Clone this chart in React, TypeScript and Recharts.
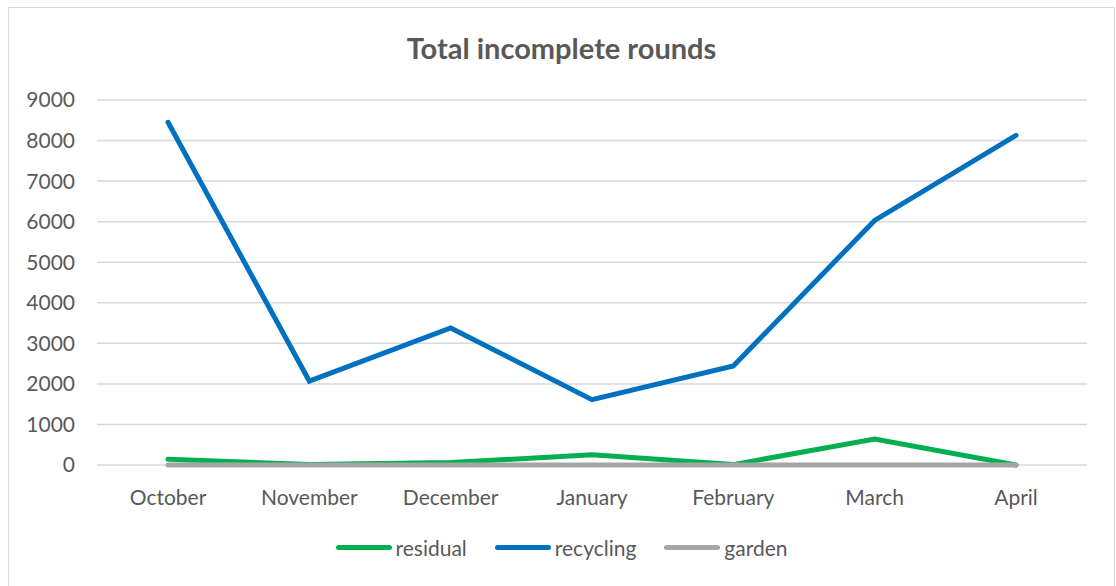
import { LineChart, Line, XAxis, YAxis, CartesianGrid } from 'recharts';

const months = ['October', 'November', 'December', 'January', 'February', 'March', 'April'];
const residual = [140, 10, 60, 250, 10, 640, 0];
const recycling = [8450, 2070, 3380, 1610, 2440, 6030, 8130];
const garden = [0, 0, 0, 0, 0, 0, 0];
const yTicks = [0, 1000, 2000, 3000, 4000, 5000, 6000, 7000, 8000, 9000];

const series = [
  { key: 'residual', color: '#00B050' },
  { key: 'recycling', color: '#0070C0' },
  { key: 'garden', color: '#A5A5A5' },
];

const data = months.map((m, i) => ({
  name: m,
  residual: residual[i],
  recycling: recycling[i],
  garden: garden[i],
}));

const font = 'Lato, "Open Sans", sans-serif';

export default function App() {
  return (
    <div style={{ position: 'absolute', left: 0, top: 0, width: 1116, height: 586, overflow: 'hidden', background: '#fff' }}>
      <div style={{ position: 'absolute', left: 8, top: 7, width: 1107, height: 600, border: '1px solid #d9d9d9', boxSizing: 'border-box' }} />
      <div style={{ position: 'absolute', left: 8, top: 30, width: 1107, textAlign: 'center', fontFamily: font, fontWeight: 'bold', fontSize: 29, color: '#595959' }}>
        Total incomplete rounds
      </div>
      <div style={{ position: 'absolute', left: 8, top: 7 }}>
        <LineChart width={1107} height={579} data={data} margin={{ top: 93, right: 28, left: 0, bottom: 81 }}>
          <CartesianGrid vertical={false} stroke="#d9d9d9" strokeWidth={1.5} />
          <XAxis
            dataKey="name"
            axisLine={false}
            tickLine={false}
            tickSize={6}
            tickMargin={19}
            height={40}
            interval={0}
            padding={{ left: 71, right: 71 }}
            tick={{ fontSize: 21, fill: '#595959', fontFamily: font }}
          />
          <YAxis
            domain={[0, 9000]}
            ticks={yTicks}
            axisLine={false}
            tickLine={false}
            tickSize={6}
            tickMargin={16}
            width={89}
            interval={0}
            tick={{ fontSize: 21, fill: '#595959', fontFamily: font }}
          />
          {series.map((s) => (
            <Line
              key={s.key}
              type="linear"
              dataKey={s.key}
              stroke={s.color}
              strokeWidth={5}
              strokeLinecap="round"
              dot={false}
              activeDot={false}
              isAnimationActive={false}
            />
          ))}
        </LineChart>
      </div>
      <div style={{ position: 'absolute', left: 8, top: 535, width: 1107, display: 'flex', justifyContent: 'center', gap: 28, fontFamily: font, fontSize: 21, color: '#595959' }}>
        {series.map((s) => (
          <div key={s.key} style={{ display: 'flex', alignItems: 'center', gap: 4 }}>
            <span style={{ display: 'inline-block', width: 56, height: 5, borderRadius: 3, background: s.color }} />
            <span>{s.key}</span>
          </div>
        ))}
      </div>
    </div>
  );
}
